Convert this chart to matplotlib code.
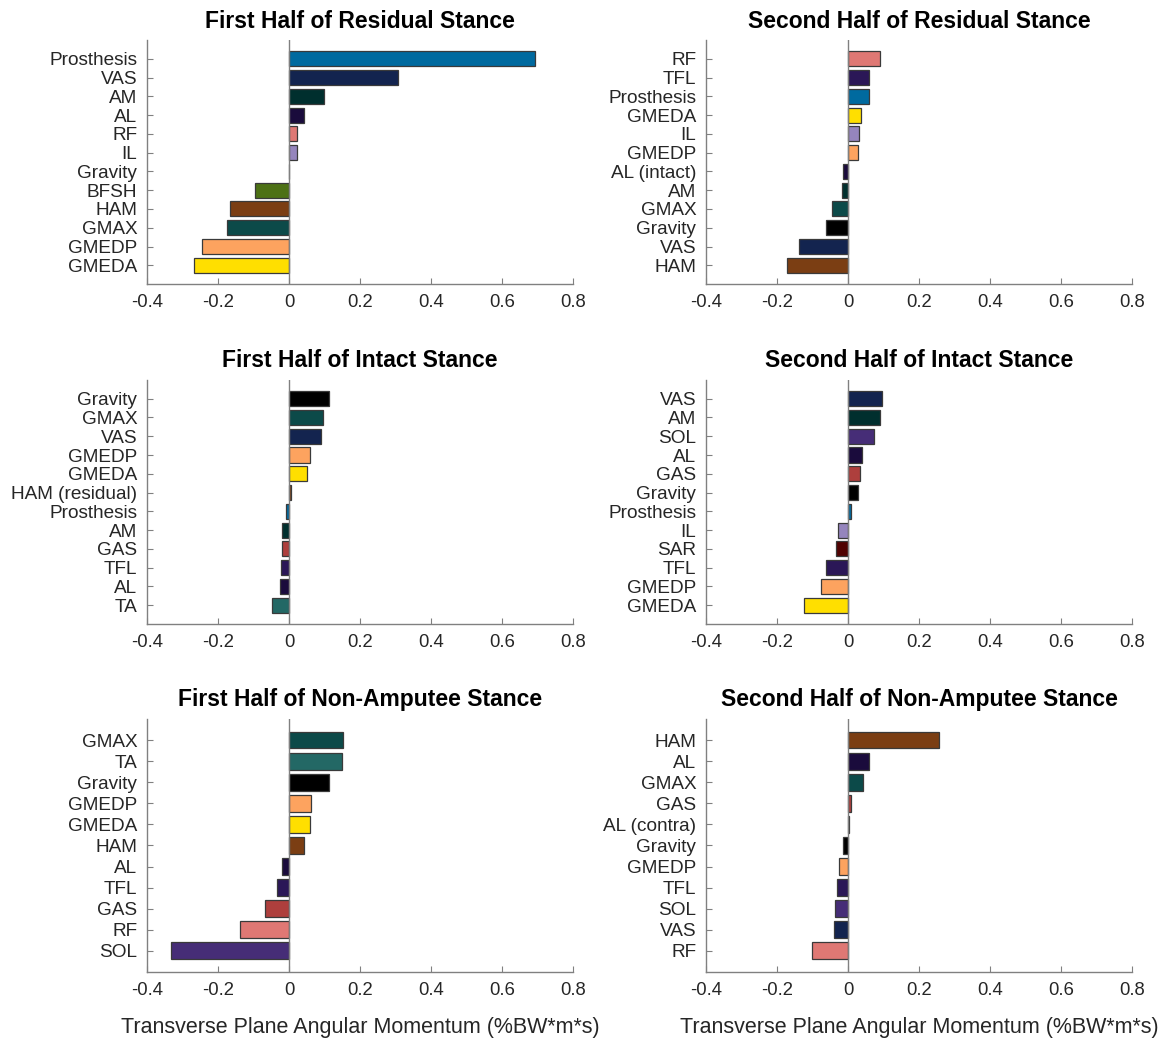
import matplotlib.pyplot as plt

plt.rcParams['font.family'] = ['Liberation Sans', 'DejaVu Sans']

# Contributions per stance phase, listed top to bottom
res1_labels = ["Prosthesis", "VAS", "AM", "AL", "RF", "IL", "Gravity",
               "BFSH", "HAM", "GMAX", "GMEDP", "GMEDA"]
res1_values = [0.694, 0.306, 0.100, 0.043, 0.023, 0.023, 0.001,
               -0.095, -0.166, -0.175, -0.244, -0.268]

res2_labels = ["RF", "TFL", "Prosthesis", "GMEDA", "IL", "GMEDP",
               "AL (intact)", "AM", "GMAX", "Gravity", "VAS", "HAM"]
res2_values = [0.089, 0.060, 0.058, 0.036, 0.032, 0.027,
               -0.014, -0.016, -0.044, -0.063, -0.139, -0.171]

int1_labels = ["Gravity", "GMAX", "VAS", "GMEDP", "GMEDA", "HAM (residual)",
               "Prosthesis", "AM", "GAS", "TFL", "AL", "TA"]
int1_values = [0.114, 0.096, 0.089, 0.058, 0.051, 0.005,
               -0.009, -0.019, -0.021, -0.023, -0.025, -0.047]

int2_labels = ["VAS", "AM", "SOL", "AL", "GAS", "Gravity",
               "Prosthesis", "IL", "SAR", "TFL", "GMEDP", "GMEDA"]
int2_values = [0.097, 0.089, 0.072, 0.038, 0.033, 0.029,
               0.007, -0.028, -0.034, -0.062, -0.076, -0.123]

non1_labels = ["GMAX", "TA", "Gravity", "GMEDP", "GMEDA", "HAM",
               "AL", "TFL", "GAS", "RF", "SOL"]
non1_values = [0.152, 0.149, 0.112, 0.063, 0.058, 0.041,
               -0.019, -0.033, -0.067, -0.138, -0.332]

non2_labels = ["HAM", "AL", "GMAX", "GAS", "AL (contra)", "Gravity",
               "GMEDP", "TFL", "SOL", "VAS", "RF"]
non2_values = [0.256, 0.059, 0.041, 0.008, 0.003, -0.014,
               -0.025, -0.031, -0.037, -0.039, -0.101]

colors = {
    "Prosthesis": "#006a9f", "VAS": "#13244f", "AM": "#002f2e",
    "AL": "#1a0b3c", "RF": "#df7874", "IL": "#9585bd", "Gravity": "#000000",
    "BFSH": "#4d7115", "HAM": "#7b3e13", "GMAX": "#0c4a49",
    "GMEDP": "#fda35f", "GMEDA": "#ffdf00", "TFL": "#2b1757",
    "GAS": "#ae3f3d", "TA": "#236865", "SOL": "#462d77", "SAR": "#500202",
}

panels = [
    ("First Half of Residual Stance", res1_labels, res1_values),
    ("Second Half of Residual Stance", res2_labels, res2_values),
    ("First Half of Intact Stance", int1_labels, int1_values),
    ("Second Half of Intact Stance", int2_labels, int2_values),
    ("First Half of Non-Amputee Stance", non1_labels, non1_values),
    ("Second Half of Non-Amputee Stance", non2_labels, non2_values),
]

fig = plt.figure(figsize=(11.62, 10.42), dpi=100)
lefts = [0.1265, 0.6076]
rows = [(0.7274, 0.2342), (0.4012, 0.2342), (0.0672, 0.2428)]

text_color = "#262626"
axis_color = "#808080"

for i, (title, labels, values) in enumerate(panels):
    bottom, height = rows[i // 2]
    ax = fig.add_axes([lefts[i % 2], bottom, 0.3666, height])
    n = len(labels)
    ypos = list(range(n, 0, -1))
    bar_colors = [colors[lab.split(" (")[0]] for lab in labels]
    ax.barh(ypos, values, height=0.8, color=bar_colors,
            edgecolor="#3a3a3a", linewidth=0.9, zorder=2)
    ax.axvline(0, color=axis_color, linewidth=1.0, zorder=3)
    ax.set_ylim(0, n + 1)
    ax.set_xlim(-0.4, 0.8)
    ax.set_xticks([-0.4, -0.2, 0, 0.2, 0.4, 0.6, 0.8])
    ax.set_xticklabels(["-0.4", "-0.2", "0", "0.2", "0.4", "0.6", "0.8"])
    ax.set_yticks(ypos)
    ax.set_yticklabels(labels)
    for side in ["top", "right"]:
        ax.spines[side].set_visible(False)
    for side in ["left", "bottom"]:
        ax.spines[side].set_color(axis_color)
        ax.spines[side].set_linewidth(1.0)
    ax.tick_params(axis="both", direction="in", length=4, width=0.8,
                   color=axis_color, labelcolor=text_color, labelsize=13.3,
                   pad=7)
    ax.tick_params(axis="y", labelsize=13.7)
    ax.set_title(title, fontsize=16.5, fontweight="bold", color="black", pad=9)
    if i >= 4:
        ax.set_xlabel("Transverse Plane Angular Momentum (%BW*m*s)",
                      fontsize=15.5, color=text_color, labelpad=13)

fig.savefig("out.png", dpi=100)
